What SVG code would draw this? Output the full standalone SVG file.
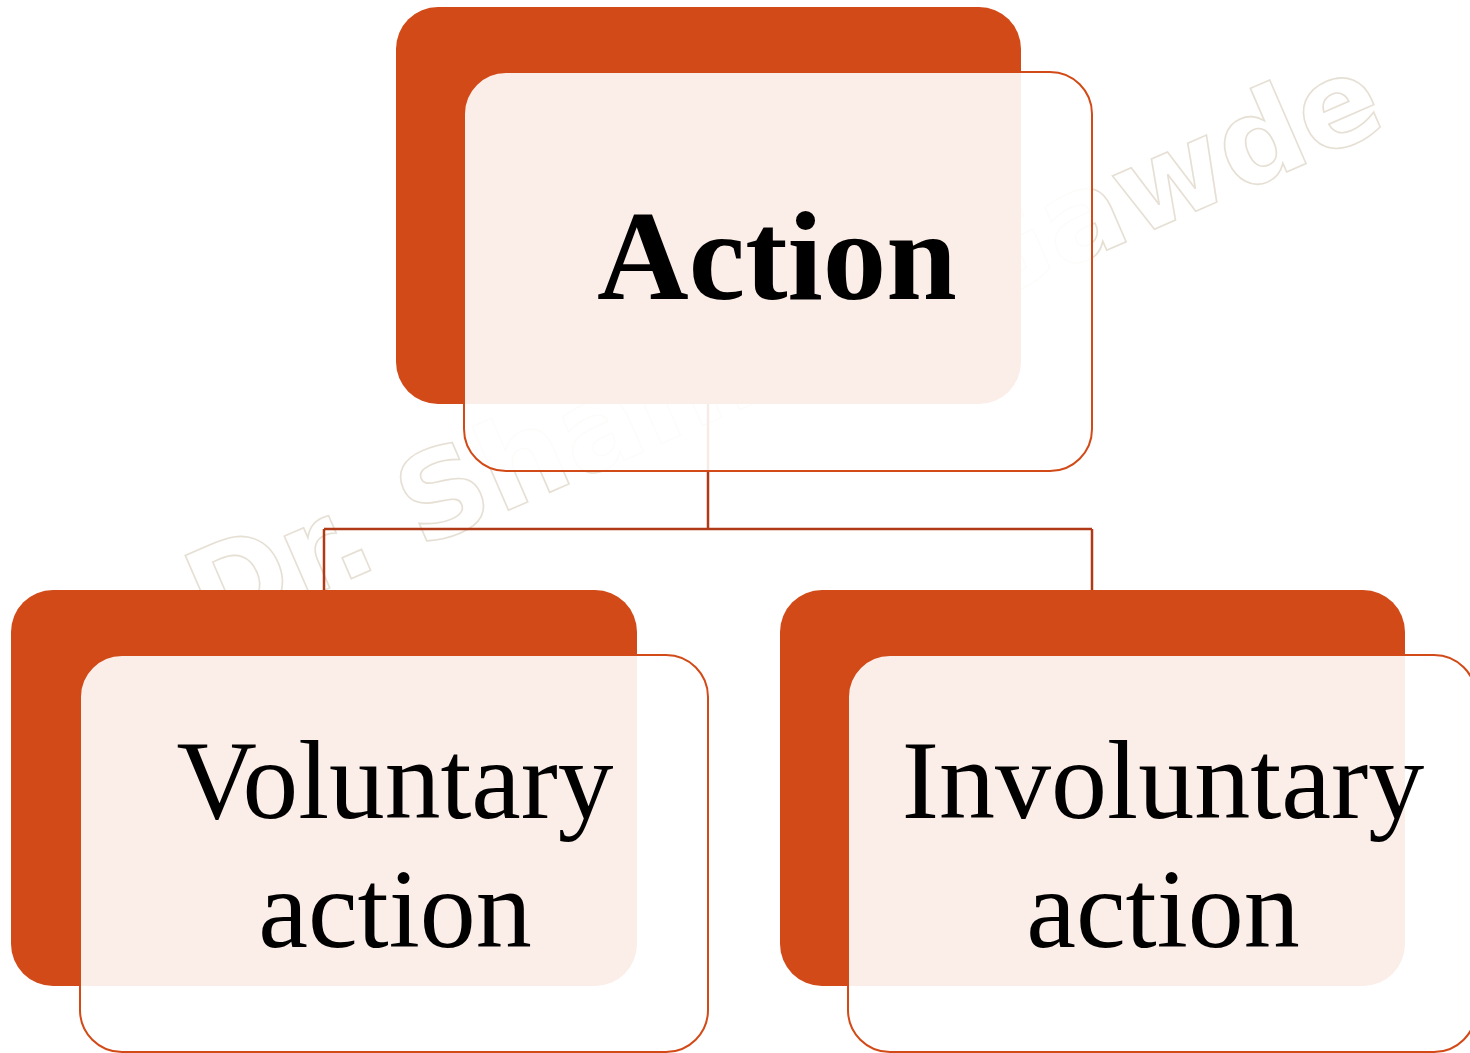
<svg xmlns="http://www.w3.org/2000/svg" width="1470" height="1053" viewBox="0 0 1470 1053">
<style>
.back{fill:#D24A18;}
.front{fill:#FFFFFF;fill-opacity:0.9;stroke:#D24A18;stroke-width:2;}
.conn{fill:none;stroke:#B03A17;stroke-width:2.5;}
.wm{font-family:"DejaVu Sans",sans-serif;font-weight:bold;font-size:120px;fill:none;stroke:#E6DFD4;stroke-width:1.6;}
.lbl{font-family:"Liberation Serif","Times New Roman",serif;fill:#000;text-anchor:middle;}
</style>
<rect width="1470" height="1053" fill="#FFFFFF"/>
<text class="wm" transform="translate(210,640) rotate(-23.5)">Dr. Shankar Gawde</text>
<g id="connectors">
<path class="conn" d="M708,404 V529 M324,529 H1092 M324,529 V590 M1092,529 V590"/>
</g>
<g id="node-action">
<rect class="back" x="396" y="7" width="625" height="397" rx="42"/>
<rect class="front" x="464" y="72" width="628" height="399" rx="42"/>
<text class="lbl" x="777" y="299" font-size="127" font-weight="bold">Action</text>
</g>
<g id="node-voluntary">
<rect class="back" x="11" y="590" width="626" height="396" rx="42"/>
<rect class="front" x="80" y="655" width="628" height="397" rx="42"/>
<text class="lbl" x="395" y="818" font-size="112" textLength="437" lengthAdjust="spacingAndGlyphs">Voluntary</text>
<text class="lbl" x="395" y="947" font-size="112">action</text>
</g>
<g id="node-involuntary">
<rect class="back" x="780" y="590" width="625" height="396" rx="42"/>
<rect class="front" x="848" y="655" width="628" height="397" rx="42"/>
<text class="lbl" x="1163" y="818" font-size="112">Involuntary</text>
<text class="lbl" x="1163" y="947" font-size="112">action</text>
</g>
</svg>
